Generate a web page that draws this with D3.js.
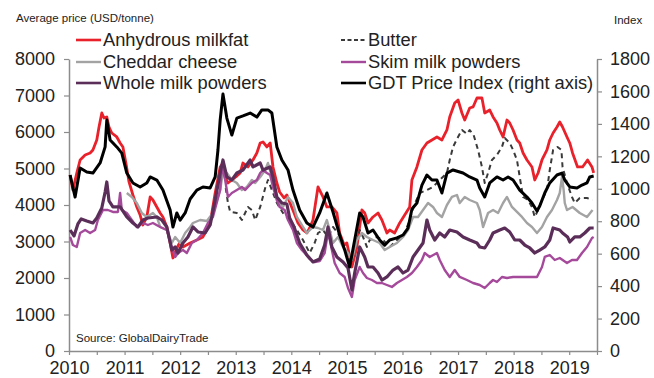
<!DOCTYPE html>
<html>
<head>
<meta charset="utf-8">
<script src="https://cdn.jsdelivr.net/npm/d3@7"></script>
<style>
  html, body { margin: 0; padding: 0; background: #fff; }
  svg { display: block; font-family: "Liberation Sans", Arial, sans-serif; }
</style>
</head>
<body>
<svg id="chart" width="654" height="378"></svg>
<script>
// ---- DATA (decimal year, value) ----
const yearTicks = [2010, 2011, 2012, 2013, 2014, 2015, 2016, 2017, 2018, 2019];
const leftTicks = [0, 1000, 2000, 3000, 4000, 5000, 6000, 7000, 8000];
const rightTicks = [0, 200, 400, 600, 800, 1000, 1200, 1400, 1600, 1800];
const seriesNames = ["Anhydrous milkfat", "Butter", "Cheddar cheese", "Skim milk powders", "Whole milk powders", "GDT Price Index (right axis)"];

const anhydrousMilkfat = [[2010.02,4822],[2010.07,4411],[2010.14,4877],[2010.20,5233],[2010.29,5370],[2010.38,5425],[2010.43,5507],[2010.50,5781],[2010.54,6138],[2010.59,6521],[2010.63,6384],[2010.68,6412],[2010.72,6138],[2010.77,5973],[2010.86,5864],[2010.92,5699],[2010.97,5590],[2011.03,5096],[2011.08,4631],[2011.15,4274],[2011.22,3946],[2011.28,3726],[2011.33,3452],[2011.40,3672],[2011.46,4220],[2011.51,4137],[2011.58,3946],[2011.64,3781],[2011.69,3672],[2011.76,3398],[2011.82,2959],[2011.87,2548],[2011.94,2822],[2012.00,2987],[2012.05,2850],[2012.18,2959],[2012.30,3041],[2012.41,3124],[2012.54,3507],[2012.63,4329],[2012.72,5042],[2012.77,5151],[2012.81,4768],[2012.86,4603],[2012.93,4685],[2013.00,4768],[2013.08,4877],[2013.13,5151],[2013.22,5042],[2013.31,5233],[2013.38,5425],[2013.44,5699],[2013.49,5727],[2013.56,5590],[2013.62,5699],[2013.67,5042],[2013.74,4603],[2013.79,4357],[2013.87,4192],[2013.92,4274],[2013.97,4083],[2014.05,3781],[2014.12,3507],[2014.21,3315],[2014.28,3233],[2014.33,3370],[2014.39,3589],[2014.48,4494],[2014.57,4220],[2014.64,3946],[2014.73,3946],[2014.82,3781],[2014.87,3233],[2014.95,2904],[2015.00,2959],[2015.09,2302],[2015.18,2850],[2015.27,3863],[2015.32,3781],[2015.38,3507],[2015.47,3672],[2015.56,3781],[2015.63,3589],[2015.72,3233],[2015.77,3315],[2015.86,3233],[2015.95,3507],[2016.04,3726],[2016.13,3946],[2016.17,4685],[2016.26,5042],[2016.35,5507],[2016.44,5699],[2016.53,5781],[2016.62,5864],[2016.71,5781],[2016.80,6055],[2016.85,6412],[2016.94,6795],[2017.00,6877],[2017.07,6521],[2017.12,6329],[2017.21,6658],[2017.27,6686],[2017.34,6932],[2017.43,6932],[2017.48,6521],[2017.57,6603],[2017.63,6412],[2017.70,6247],[2017.75,6055],[2017.81,5864],[2017.88,6329],[2017.93,6247],[2017.99,6055],[2018.06,5781],[2018.11,5699],[2018.17,5425],[2018.24,5233],[2018.33,5042],[2018.38,4685],[2018.44,4877],[2018.51,5233],[2018.60,5507],[2018.65,5781],[2018.71,5973],[2018.78,6138],[2018.83,6275],[2018.88,6138],[2018.96,5864],[2019.01,5699],[2019.06,5425],[2019.15,5042],[2019.24,5042],[2019.33,5233],[2019.41,5042],[2019.44,4877]];

const butter = [[2012.82,4466],[2012.86,4055],[2012.90,3809],[2013.02,3781],[2013.11,3589],[2013.22,3946],[2013.29,3863],[2013.35,3589],[2013.44,3946],[2013.53,4466],[2013.58,4685],[2013.65,4411],[2013.74,4055],[2013.85,3781],[2013.97,3589],[2014.10,3315],[2014.21,3041],[2014.33,2685],[2014.42,2959],[2014.48,3233],[2014.57,3315],[2014.66,3124],[2014.75,3398],[2014.84,3233],[2014.93,2904],[2015.02,2576],[2015.09,2411],[2015.14,2767],[2015.23,3315],[2015.29,3124],[2015.36,2850],[2015.41,3041],[2015.54,3124],[2015.65,3041],[2015.77,2850],[2015.90,3041],[2016.01,3124],[2016.13,3589],[2016.21,4000],[2016.31,4329],[2016.44,4411],[2016.55,4494],[2016.67,4685],[2016.80,4877],[2016.85,5233],[2016.91,5590],[2017.00,5864],[2017.07,6055],[2017.16,5946],[2017.21,6055],[2017.28,5918],[2017.36,5507],[2017.43,5042],[2017.48,4603],[2017.54,4877],[2017.61,5233],[2017.70,5370],[2017.79,5590],[2017.84,5836],[2017.93,5699],[2017.99,5507],[2018.06,5233],[2018.11,4768],[2018.17,4220],[2018.26,4137],[2018.33,3946],[2018.38,3672],[2018.44,3863],[2018.51,4137],[2018.60,4411],[2018.65,4959],[2018.71,5507],[2018.79,5590],[2018.86,5507],[2018.88,5042],[2018.96,4603],[2019.05,4220],[2019.10,4055],[2019.19,4192],[2019.32,4192],[2019.42,4137]];

const cheddarCheese = [[2011.04,4329],[2011.13,4220],[2011.22,4055],[2011.31,3781],[2011.40,3672],[2011.51,3781],[2011.58,3672],[2011.64,3398],[2011.76,3315],[2011.85,2959],[2011.91,3124],[2012.00,2959],[2012.09,3233],[2012.18,3398],[2012.23,3507],[2012.36,3589],[2012.48,3562],[2012.59,3781],[2012.72,4411],[2012.77,4905],[2012.84,4877],[2012.93,4685],[2013.02,4603],[2013.11,4411],[2013.20,4494],[2013.29,4685],[2013.35,4603],[2013.44,4768],[2013.53,4959],[2013.58,5151],[2013.65,4768],[2013.71,4411],[2013.74,4137],[2013.85,3946],[2013.94,4220],[2014.03,4055],[2014.10,3672],[2014.21,3398],[2014.28,3233],[2014.39,3398],[2014.48,3370],[2014.57,3315],[2014.64,3589],[2014.69,3315],[2014.75,2959],[2014.84,3124],[2014.93,2850],[2015.02,2685],[2015.09,2493],[2015.18,3041],[2015.27,3233],[2015.36,3124],[2015.47,3041],[2015.59,2959],[2015.68,2767],[2015.77,2850],[2015.90,2959],[2016.01,3124],[2016.10,3315],[2016.19,3672],[2016.28,3672],[2016.37,3863],[2016.46,4055],[2016.55,3946],[2016.62,3781],[2016.71,3672],[2016.80,4000],[2016.89,4220],[2016.98,4274],[2017.03,4055],[2017.12,4220],[2017.21,4137],[2017.34,4055],[2017.39,3863],[2017.45,3398],[2017.54,3781],[2017.63,3863],[2017.72,3781],[2017.81,4055],[2017.88,4220],[2017.97,3946],[2018.06,3809],[2018.15,3672],[2018.24,3507],[2018.33,3398],[2018.42,3233],[2018.51,3398],[2018.60,3672],[2018.69,3863],[2018.78,4137],[2018.83,4329],[2018.87,4768],[2018.90,4411],[2018.92,4055],[2018.96,3863],[2019.06,3946],[2019.19,3781],[2019.32,3672],[2019.42,3863]];

const skimMilkPowders = [[2010.02,3124],[2010.07,2904],[2010.14,2850],[2010.20,3233],[2010.29,3315],[2010.38,3233],[2010.47,3315],[2010.52,3589],[2010.61,3863],[2010.70,3863],[2010.79,3809],[2010.88,3809],[2010.92,4329],[2010.95,3863],[2011.04,3781],[2011.13,3589],[2011.22,3398],[2011.33,3507],[2011.42,3452],[2011.51,3507],[2011.64,3398],[2011.76,3315],[2011.85,2850],[2011.91,2576],[2011.96,2685],[2012.05,2767],[2012.12,2685],[2012.21,2959],[2012.30,3041],[2012.41,3233],[2012.50,3507],[2012.59,3672],[2012.72,4411],[2012.75,5096],[2012.81,4685],[2012.86,4220],[2012.93,4329],[2013.02,4411],[2013.11,4494],[2013.17,4411],[2013.22,4494],[2013.29,4603],[2013.38,4685],[2013.44,4877],[2013.49,4959],[2013.56,4877],[2013.62,4822],[2013.67,4494],[2013.74,4137],[2013.79,3946],[2013.88,3863],[2013.94,3589],[2014.03,3315],[2014.10,2959],[2014.19,2767],[2014.24,2685],[2014.33,2521],[2014.42,2439],[2014.51,2466],[2014.60,2685],[2014.66,3261],[2014.73,2767],[2014.78,2411],[2014.87,2137],[2014.96,2028],[2015.02,1726],[2015.09,1480],[2015.14,1945],[2015.23,2302],[2015.29,2137],[2015.36,2000],[2015.45,1945],[2015.54,1863],[2015.63,1863],[2015.72,1808],[2015.81,1754],[2015.90,1863],[2015.99,1945],[2016.08,2028],[2016.17,2137],[2016.26,2302],[2016.35,2493],[2016.40,2685],[2016.49,2576],[2016.62,2685],[2016.67,2493],[2016.76,2219],[2016.85,2028],[2016.94,2219],[2017.03,2028],[2017.16,1945],[2017.27,1863],[2017.39,1808],[2017.48,1726],[2017.57,1863],[2017.63,1945],[2017.70,1891],[2017.79,2028],[2017.88,2000],[2017.99,2028],[2018.11,2028],[2018.24,2028],[2018.33,2028],[2018.42,2028],[2018.51,2302],[2018.56,2576],[2018.65,2630],[2018.74,2493],[2018.83,2548],[2018.96,2411],[2019.05,2493],[2019.14,2493],[2019.23,2685],[2019.32,2850],[2019.41,3096],[2019.44,3124]];

const wholeMilkPowders = [[2010.02,3315],[2010.09,3151],[2010.16,3480],[2010.22,3617],[2010.32,3562],[2010.43,3507],[2010.50,3644],[2010.59,3918],[2010.65,4357],[2010.68,4631],[2010.72,4110],[2010.79,3946],[2010.92,3946],[2011.04,3672],[2011.15,3507],[2011.24,3398],[2011.33,3589],[2011.42,3644],[2011.58,3672],[2011.67,3589],[2011.76,3398],[2011.85,2767],[2011.91,2850],[2011.96,2685],[2012.05,2959],[2012.14,3124],[2012.23,3398],[2012.32,3261],[2012.45,3233],[2012.54,3452],[2012.63,4137],[2012.72,4877],[2012.77,5233],[2012.84,4768],[2012.93,4685],[2013.02,4877],[2013.13,4959],[2013.26,5233],[2013.31,5042],[2013.44,5151],[2013.49,4959],[2013.62,5042],[2013.67,4768],[2013.74,4220],[2013.83,4055],[2013.92,4028],[2013.97,3644],[2014.05,3398],[2014.15,2959],[2014.28,2630],[2014.39,2439],[2014.51,2521],[2014.60,2904],[2014.66,3398],[2014.73,2850],[2014.82,2576],[2014.93,2439],[2015.02,2274],[2015.09,1671],[2015.14,2137],[2015.23,2850],[2015.32,2576],[2015.38,2302],[2015.47,2302],[2015.56,2137],[2015.63,1945],[2015.72,2028],[2015.83,2219],[2015.92,2302],[2016.01,2137],[2016.10,2219],[2016.19,2576],[2016.28,2767],[2016.37,2959],[2016.44,3589],[2016.49,3315],[2016.58,3041],[2016.67,3233],[2016.76,3124],[2016.85,3315],[2016.98,3261],[2017.09,3124],[2017.21,3041],[2017.34,2959],[2017.39,2850],[2017.48,2822],[2017.57,3041],[2017.63,3233],[2017.75,3315],[2017.84,3370],[2017.93,3261],[2018.02,3041],[2018.11,3041],[2018.20,2904],[2018.29,2822],[2018.38,2685],[2018.47,2767],[2018.56,2850],[2018.65,3041],[2018.71,3370],[2018.83,3315],[2018.88,3233],[2018.97,3124],[2019.01,2987],[2019.10,3124],[2019.19,3124],[2019.28,3233],[2019.37,3370],[2019.44,3370]];

const gdtPriceIndex = [[2010.02,1085],[2010.11,949],[2010.20,1128],[2010.32,1103],[2010.43,1097],[2010.56,1159],[2010.65,1258],[2010.68,1424],[2010.74,1301],[2010.86,1258],[2010.95,1220],[2011.04,1097],[2011.15,1036],[2011.28,1011],[2011.40,1036],[2011.46,1073],[2011.58,1054],[2011.69,992],[2011.82,869],[2011.87,764],[2011.94,851],[2012.00,807],[2012.09,851],[2012.18,937],[2012.30,992],[2012.41,1011],[2012.54,1005],[2012.63,1073],[2012.68,1239],[2012.72,1424],[2012.77,1584],[2012.84,1436],[2012.93,1331],[2013.02,1436],[2013.13,1449],[2013.26,1467],[2013.38,1442],[2013.47,1486],[2013.58,1486],[2013.65,1467],[2013.74,1258],[2013.83,1177],[2013.94,1116],[2014.03,992],[2014.15,869],[2014.28,789],[2014.39,764],[2014.51,851],[2014.64,974],[2014.75,857],[2014.87,715],[2014.96,623],[2015.05,518],[2015.14,684],[2015.23,851],[2015.29,826],[2015.38,727],[2015.47,746],[2015.59,684],[2015.68,653],[2015.77,684],[2015.90,697],[2016.01,715],[2016.10,758],[2016.17,875],[2016.26,912],[2016.35,1023],[2016.44,1085],[2016.53,1054],[2016.62,1054],[2016.71,974],[2016.80,1097],[2016.91,1116],[2017.09,1097],[2017.21,1073],[2017.34,1054],[2017.39,1005],[2017.48,949],[2017.57,1036],[2017.70,1073],[2017.81,1054],[2017.90,1073],[2017.99,1054],[2018.11,992],[2018.24,949],[2018.33,912],[2018.42,863],[2018.47,894],[2018.56,974],[2018.65,1036],[2018.78,1085],[2018.87,1097],[2018.92,1054],[2019.01,1011],[2019.14,1005],[2019.23,1023],[2019.32,1036],[2019.37,1073],[2019.44,1079]];

// ---- LAYOUT ----
const svg = d3.select("#chart");
const X0 = 69, X1 = 597, Y0 = 351, Y1 = 59;
const FONT = "18px";
const axisColor = "#8c8c8c";

const x = d3.scaleLinear().domain([2010, 2019.5]).range([X0, X1]);
const yL = d3.scaleLinear().domain([0, 8000]).range([Y0, Y1]);
const yR = d3.scaleLinear().domain([0, 1800]).range([Y0, Y1]);

function styleAxis(g) {
  g.select(".domain").attr("stroke", axisColor).attr("stroke-width", 1.5);
  g.selectAll(".tick line").attr("stroke", axisColor).attr("stroke-width", 1.2);
  g.selectAll(".tick text").attr("fill", "#222").style("font-size", FONT)
    .style("font-family", "'Liberation Sans', Arial, sans-serif");
}

svg.append("g").attr("transform", `translate(${X0},0)`)
  .call(d3.axisLeft(yL).tickValues(leftTicks).tickSize(5).tickSizeOuter(0).tickPadding(9).tickFormat(d3.format("d")))
  .call(styleAxis);
svg.append("g").attr("transform", `translate(${X1},0)`)
  .call(d3.axisRight(yR).tickValues(rightTicks).tickSize(5).tickSizeOuter(0).tickPadding(8).tickFormat(d3.format("d")))
  .call(styleAxis);
const halfYears = d3.range(2010, 2019.51, 0.5);
svg.append("g").attr("transform", `translate(0,${Y0})`)
  .call(d3.axisBottom(x).tickValues(halfYears).tickSize(4).tickSizeOuter(0).tickPadding(6)
    .tickFormat(d => yearTicks.includes(d) ? String(d) : ""))
  .call(styleAxis);

svg.append("text").attr("x", 16).attr("y", 22).text("Average price (USD/tonne)")
  .style("font-size", "11.5px").attr("fill", "#222");
svg.append("text").attr("x", 614).attr("y", 24).text("Index")
  .style("font-size", "11.5px").attr("fill", "#222");
svg.append("text").attr("x", 76).attr("y", 342).text("Source: GlobalDairyTrade")
  .style("font-size", "11.5px").attr("fill", "#222");

const series = [
  { name: seriesNames[0], data: anhydrousMilkfat, scale: yL, color: "#e8212b", width: 2.8, dash: null },
  { name: seriesNames[1], data: butter, scale: yL, color: "#3a3a3a", width: 2, dash: "5,4" },
  { name: seriesNames[2], data: cheddarCheese, scale: yL, color: "#a3a3a3", width: 2.4, dash: null },
  { name: seriesNames[3], data: skimMilkPowders, scale: yL, color: "#a54a9b", width: 2.4, dash: null },
  { name: seriesNames[4], data: wholeMilkPowders, scale: yL, color: "#5a2e58", width: 3.2, dash: null },
  { name: seriesNames[5], data: gdtPriceIndex, scale: yR, color: "#000000", width: 3, dash: null }
];

series.forEach(s => {
  const line = d3.line().x(d => x(d[0])).y(d => s.scale(d[1]));
  svg.append("path").datum(s.data)
    .attr("d", line)
    .attr("fill", "none")
    .attr("stroke", s.color)
    .attr("stroke-width", s.width)
    .attr("stroke-linejoin", "round")
    .attr("stroke-dasharray", s.dash);
});

const legendPos = [
  { col: 0, row: 0 }, { col: 1, row: 0 },
  { col: 0, row: 1 }, { col: 1, row: 1 },
  { col: 0, row: 2 }, { col: 1, row: 2 }
];
const colX = [76, 341], rowY = [40, 62, 83];
series.forEach((s, i) => {
  const p = legendPos[i];
  const lx = colX[p.col], ly = rowY[p.row];
  svg.append("line").attr("x1", lx).attr("x2", lx + 25).attr("y1", ly).attr("y2", ly)
    .attr("stroke", s.color).attr("stroke-width", Math.min(s.width, 2.6))
    .attr("stroke-dasharray", s.dash ? "4,2.5" : null);
  svg.append("text").attr("x", lx + 27).attr("y", ly).attr("dy", "0.35em")
    .text(s.name).style("font-size", "18.3px").attr("fill", "#222");
});
</script>
</body>
</html>
